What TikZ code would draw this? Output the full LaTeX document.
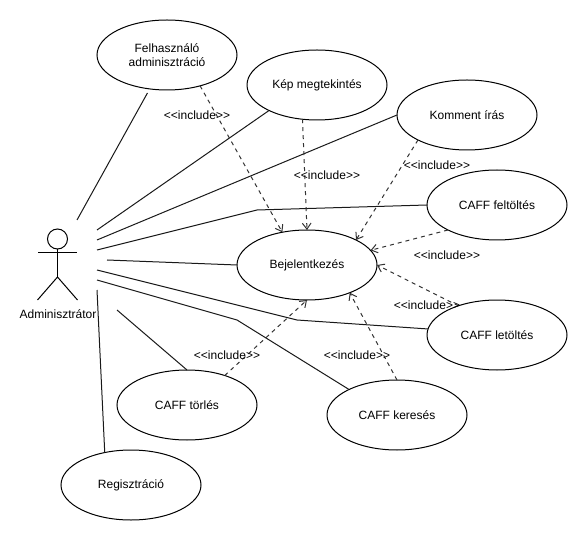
\documentclass[tikz,border=0pt]{standalone}
\usepackage{fontspec}
\setmainfont{Liberation Sans}
\usetikzlibrary{arrows.meta,shapes.geometric}

\tikzset{
  usecase/.style={ellipse,draw,minimum width=105pt,minimum height=52.5pt,inner sep=0pt,outer sep=0pt,align=center},
  incl/.style={inner sep=0pt},
  dep/.style={dashed,-{Straight Barb[length=4.5pt,width=6.5pt]},draw=black!80},
  assoc/.style={draw=black!90}
}
\newcommand{\includelabel}{{<}{<}include{>}{>}}

\begin{document}
\begin{tikzpicture}[x=0.75pt,y=-0.75pt,line width=0.75pt,font=\fontsize{9}{11}\selectfont]
\useasboundingbox (0,0) rectangle (588,541);

\node[usecase] (felhasznalo) at (167,55) {Felhasználó\\adminisztráció};
\node[usecase] (kep) at (317,85) {Kép megtekintés};
\node[usecase] (komment) at (467,115) {Komment írás};
\node[usecase] (feltoltes) at (497,205) {CAFF feltöltés};
\node[usecase] (bejelentkezes) at (307,265) {Bejelentkezés};
\node[usecase] (letoltes) at (497,335) {CAFF letöltés};
\node[usecase] (kereses) at (397,415) {CAFF keresés};
\node[usecase] (torles) at (187,405) {CAFF törlés};
\node[usecase] (regisztracio) at (131,485) {Regisztráció};

% actor
\node[circle,draw,minimum size=15pt,inner sep=0pt,outer sep=0pt] (fej) at (57.5,239) {};
\node[inner sep=0pt] (admin) at (58,314) {Adminisztrátor};
\coordinate (karb) at (38,253);
\coordinate (karj) at (77,253);
\coordinate (csipo) at (57.5,277);
\coordinate (labb) at (37.5,300);
\coordinate (labj) at (77.5,300);
\draw (fej) -- (csipo);
\draw (karb) -- (karj);
\draw (labb) -- (csipo) -- (labj);

% free ends at the actor
\coordinate (a1) at (77,220);
\coordinate (a2) at (97,230);
\coordinate (a3) at (97,240);
\coordinate (a4) at (97,250);
\coordinate (a5) at (107,260);
\coordinate (a6) at (97,270);
\coordinate (a7) at (97,280);
\coordinate (a8) at (97,290);
\coordinate (a9) at (117,310);
\coordinate (t4) at (257,210);
\coordinate (t6) at (297,320);
\coordinate (t7) at (237,320);

\draw[assoc,shorten >=3.5pt] (a1) -- (felhasznalo.-117);
\draw[assoc] (a2) -- (kep.-152);
\draw[assoc] (a3) -- (komment.west);
\draw[assoc] (a4) -- (t4) -- (feltoltes.west);
\draw[assoc] (a5) -- (bejelentkezes.west);
\draw[assoc] (a6) -- (t6) -- (letoltes.175);
\draw[assoc] (a7) -- (t7) -- (kereses.152);
\draw[assoc] (a8) -- (regisztracio.129);
\draw[assoc] (a9) -- (torles.north);

\path (felhasznalo.-43) edge[dep] (bejelentkezes.127)
    (kep.-113) edge[dep] (bejelentkezes.north)
    (komment.-153) edge[dep] (bejelentkezes.27)
    (feltoltes.-153) edge[dep] (bejelentkezes.13)
    (letoltes.143) edge[dep] (bejelentkezes.east)
    (kereses.north) edge[dep] (bejelentkezes.-33)
    (torles.38) edge[dep] (bejelentkezes.-90);

\node[incl] (inc1) at (197,115) {\includelabel};
\node[incl] (inc2) at (327,175) {\includelabel};
\node[incl] (inc3) at (437,165) {\includelabel};
\node[incl] (inc4) at (447,255) {\includelabel};
\node[incl] (inc5) at (427,305) {\includelabel};
\node[incl] (inc6) at (357,355) {\includelabel};
\node[incl] (inc7) at (227,355) {\includelabel};
\end{tikzpicture}
\end{document}
